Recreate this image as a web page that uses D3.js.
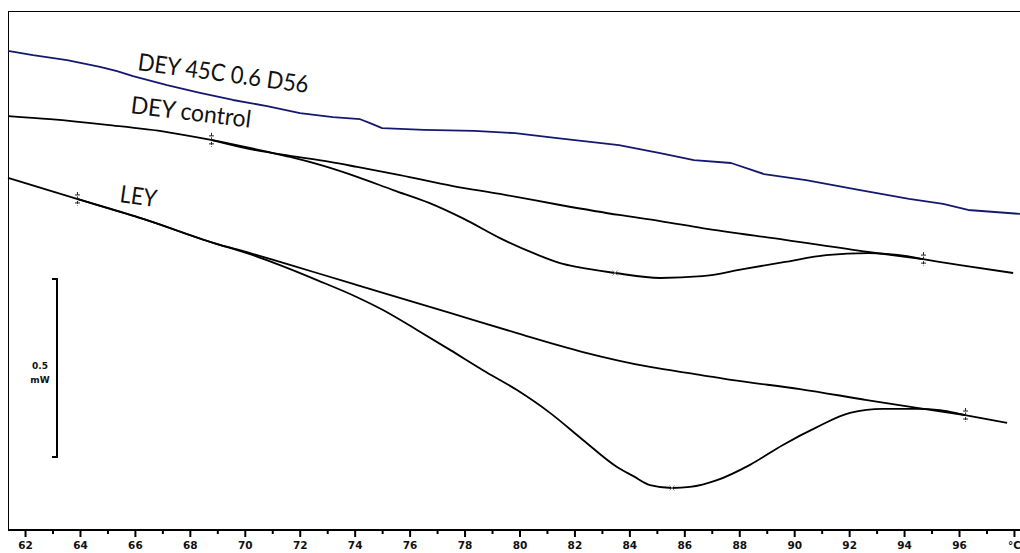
<!DOCTYPE html>
<html>
<head>
<meta charset="utf-8">
<script src="https://cdn.jsdelivr.net/npm/d3@7"></script>
<style>
  html, body { margin: 0; padding: 0; background: #fff; }
  svg { display: block; }
</style>
</head>
<body>
<svg id="chart" width="1020" height="553"></svg>
<script>
// DSC thermograms: heat flow (mW, offset per trace) against temperature (°C)

// DEY 45C 0.6 D56 trace
const deyD56Temp = [61.38, 62.29, 63.53, 64.73, 65.35, 65.93, 67.17, 68.37, 69.57, 70.81, 72.01, 73.21, 74.20, 74.56, 75.00, 76.53, 78.35, 79.84, 81.37, 83.62, 85.12, 86.35, 87.70, 88.90, 90.43, 92.40, 94.18, 95.42, 96.33, 98.22];
const deyD56Flow = [1.346, 1.334, 1.320, 1.301, 1.289, 1.275, 1.250, 1.228, 1.208, 1.191, 1.171, 1.160, 1.154, 1.143, 1.129, 1.124, 1.121, 1.115, 1.101, 1.081, 1.059, 1.039, 1.031, 1.000, 0.983, 0.955, 0.930, 0.916, 0.899, 0.888];

// DEY control trace
const deyCtrlTemp = [61.38, 62.91, 64.99, 67.17, 68.77, 70.85, 71.65, 72.90, 74.09, 75.40, 76.71, 77.98, 79.29, 80.60, 81.48, 82.09, 83.48, 85.12, 86.65, 88.14, 89.67, 91.16, 92.69, 93.45, 94.04, 94.69, 96.04, 97.97];
const deyCtrlFlow = [1.163, 1.154, 1.138, 1.118, 1.096, 1.062, 1.048, 1.022, 0.992, 0.955, 0.919, 0.874, 0.820, 0.775, 0.750, 0.739, 0.722, 0.708, 0.713, 0.733, 0.753, 0.772, 0.778, 0.775, 0.770, 0.761, 0.744, 0.722];

// DEY control integration baseline (onset to endset)
const deyBaseTemp = [68.77, 70.19, 71.65, 73.10, 74.09, 75.65, 77.58, 79.29, 81.48, 83.62, 85.12, 86.65, 89.67, 92.69, 94.69];
const deyBaseFlow = [1.096, 1.070, 1.051, 1.034, 1.020, 0.997, 0.966, 0.944, 0.913, 0.885, 0.868, 0.848, 0.815, 0.781, 0.761];

// LEY trace
const leyTemp = [61.38, 63.89, 66.30, 68.88, 70.19, 71.28, 72.63, 74.09, 75.03, 76.27, 77.47, 78.67, 79.91, 81.11, 82.31, 83.55, 84.13, 84.75, 85.55, 86.21, 87.19, 88.39, 89.59, 90.83, 92.03, 93.23, 94.47, 95.31, 96.22, 97.75];
const leyFlow = [0.989, 0.930, 0.874, 0.806, 0.775, 0.744, 0.702, 0.654, 0.618, 0.562, 0.506, 0.449, 0.393, 0.329, 0.253, 0.177, 0.152, 0.126, 0.118, 0.121, 0.140, 0.183, 0.239, 0.289, 0.329, 0.340, 0.340, 0.337, 0.323, 0.301];

// LEY integration baseline (onset to endset)
const leyBaseTemp = [63.89, 66.30, 68.88, 70.19, 71.28, 72.63, 74.09, 75.03, 77.47, 79.91, 82.31, 84.75, 86.57, 87.77, 90.21, 92.65, 94.47, 96.22];
const leyBaseFlow = [0.930, 0.874, 0.806, 0.778, 0.753, 0.722, 0.688, 0.666, 0.610, 0.553, 0.500, 0.458, 0.436, 0.421, 0.396, 0.365, 0.343, 0.323];

// integration limits and peak positions
const limitTemp = [68.77, 94.69, 63.89, 96.22];
const limitFlow = [1.096, 0.761, 0.930, 0.323];
const peakTemp = [83.48, 85.55];
const peakFlow = [0.722, 0.118];

// axis ticks
const majorTicks = [62, 64, 66, 68, 70, 72, 74, 76, 78, 80, 82, 84, 86, 88, 90, 92, 94, 96, 98];
const majorLabels = ["62", "64", "66", "68", "70", "72", "74", "76", "78", "80", "82", "84", "86", "88", "90", "92", "94", "96", "°C"];
const minorTicks = [63, 65, 67, 69, 71, 73, 75, 77, 79, 81, 83, 85, 87, 89, 91, 93, 95, 97];

// trace names and scale bar
const traceNames = ["DEY 45C 0.6 D56", "DEY control", "LEY"];
const scaleBarFrom = 0.205;
const scaleBarSpan = 0.5;
const scaleBarLabel = ["0.5", "mW"];

const svg = d3.select("#chart");
const x = d3.scaleLinear().domain([61.38, 98.22]).range([8, 1020]);
const y = d3.scaleLinear().domain([0, 1.458]).range([530, 11]);

const zip = (t, f) => t.map((d, i) => [d, f[i]]);

// frame
svg.append("line").attr("x1", 8.5).attr("x2", 8.5).attr("y1", 11).attr("y2", 530)
  .attr("stroke", "#000").attr("stroke-width", 1);
svg.append("line").attr("x1", 8).attr("x2", 1020).attr("y1", 11.5).attr("y2", 11.5)
  .attr("stroke", "#000").attr("stroke-width", 1);

// temperature axis
const axisG = svg.append("g").attr("transform", "translate(0,530)");
axisG.append("g")
  .call(d3.axisBottom(x).tickValues(minorTicks).tickSize(4).tickFormat(""))
  .call(g => g.select(".domain").remove());
axisG.append("g")
  .call(d3.axisBottom(x).tickValues(majorTicks).tickSize(7).tickPadding(5)
    .tickFormat((d, i) => majorLabels[i]))
  .call(g => g.select(".domain").remove());
axisG.selectAll(".tick line").attr("stroke", "#000").attr("stroke-width", 2);
axisG.selectAll(".tick text")
  .attr("fill", "#111")
  .style("font-family", "'DejaVu Sans', Verdana, sans-serif")
  .style("font-weight", "bold")
  .style("font-size", "10.5px");
axisG.append("line").attr("x1", 8).attr("x2", 1020).attr("y1", 0).attr("y2", 0)
  .attr("stroke", "#000").attr("stroke-width", 2);

// traces
const smooth = d3.line().x(d => x(d[0])).y(d => y(d[1])).curve(d3.curveMonotoneX);
const straight = d3.line().x(d => x(d[0])).y(d => y(d[1]));

const traces = [
  { pts: zip(deyD56Temp, deyD56Flow), color: "#14196e", gen: straight },
  { pts: zip(deyBaseTemp, deyBaseFlow), color: "#000", gen: smooth },
  { pts: zip(deyCtrlTemp, deyCtrlFlow), color: "#000", gen: smooth },
  { pts: zip(leyBaseTemp, leyBaseFlow), color: "#000", gen: smooth },
  { pts: zip(leyTemp, leyFlow), color: "#000", gen: smooth }
];
svg.append("g").selectAll("path").data(traces).join("path")
  .attr("d", d => d.gen(d.pts))
  .attr("fill", "none")
  .attr("stroke", d => d.color)
  .attr("stroke-width", 1.8)
  .attr("stroke-linejoin", "round");

// integration limit markers
const lim = svg.append("g").attr("stroke", "#222").attr("stroke-width", 1);
limitTemp.forEach((t, i) => {
  const cx = x(t), cy = y(limitFlow[i]);
  lim.append("line").attr("x1", cx + 0.5).attr("x2", cx + 0.5)
    .attr("y1", cy - 7).attr("y2", cy + 7).attr("stroke-dasharray", "3,1.5");
  lim.append("line").attr("x1", cx - 2).attr("x2", cx + 3)
    .attr("y1", cy - 4).attr("y2", cy - 4);
  lim.append("line").attr("x1", cx - 2).attr("x2", cx + 3)
    .attr("y1", cy + 4).attr("y2", cy + 4);
});

// peak markers
const pk = svg.append("g").attr("stroke", "#777").attr("stroke-width", 0.9);
peakTemp.forEach((t, i) => {
  const cx = x(t), cy = y(peakFlow[i]);
  pk.append("line").attr("x1", cx - 2.5).attr("x2", cx + 2.5).attr("y1", cy - 2.5).attr("y2", cy + 2.5);
  pk.append("line").attr("x1", cx - 2.5).attr("x2", cx + 2.5).attr("y1", cy + 2.5).attr("y2", cy - 2.5);
});

// trace names
const namePlacement = [
  { x: 137, y: 70, angle: 7.7, len: 172 },
  { x: 130, y: 113, angle: 7, len: 121 },
  { x: 119, y: 202, angle: 8, len: 37 }
];
svg.append("g").selectAll("text").data(traceNames).join("text")
  .attr("transform", (d, i) => `translate(${namePlacement[i].x},${namePlacement[i].y}) rotate(${namePlacement[i].angle})`)
  .attr("textLength", (d, i) => namePlacement[i].len)
  .attr("lengthAdjust", "spacingAndGlyphs")
  .attr("fill", "#111")
  .style("font-family", "Lato, 'Open Sans', sans-serif")
  .style("font-size", "24px")
  .text(d => d);

// 0.5 mW scale bar
const barTop = y(scaleBarFrom + scaleBarSpan), barBottom = y(scaleBarFrom);
svg.append("path")
  .attr("d", `M52,${barTop}H57V${barBottom}H52`)
  .attr("fill", "none").attr("stroke", "#000").attr("stroke-width", 2);
svg.append("g").selectAll("text").data(scaleBarLabel).join("text")
  .attr("x", 40)
  .attr("y", (d, i) => (barTop + barBottom) / 2 + 1 + i * 14)
  .attr("text-anchor", "middle")
  .attr("fill", "#111")
  .style("font-family", "'DejaVu Sans', Verdana, sans-serif")
  .style("font-weight", "bold")
  .style("font-size", "9px")
  .text(d => d);
</script>
</body>
</html>
